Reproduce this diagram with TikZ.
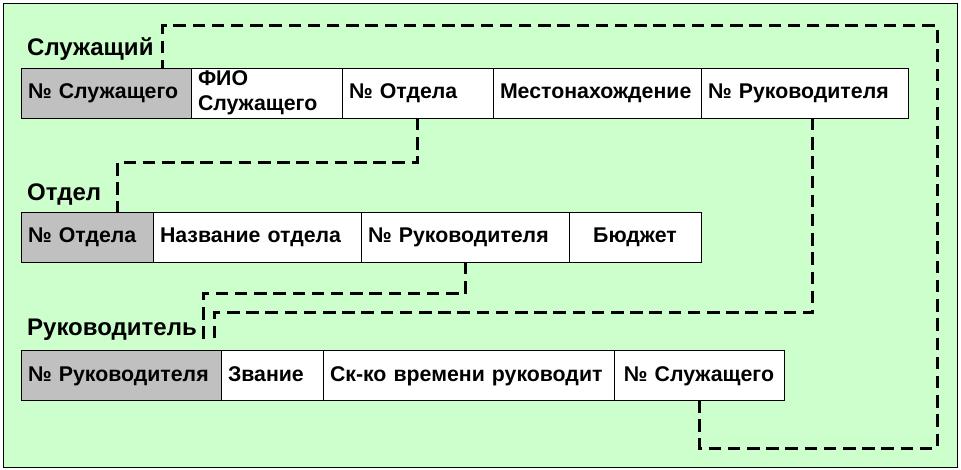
\documentclass[tikz,border=0pt]{standalone}
\usepackage{fontspec}
\setmainfont{Liberation Sans}
\usetikzlibrary{positioning}
\definecolor{paleGreen}{RGB}{204,255,204}
\definecolor{keyGray}{RGB}{192,192,192}
\newcommand{\cellfont}{\fontsize{21.3}{25}\selectfont\bfseries}
\tikzset{
  cell/.style={draw, fill=white, line width=0.8pt, outer sep=0pt,
    inner xsep=7pt, inner ysep=0pt, minimum height=50pt,
    text width=#1, align=left, font=\cellfont},
  field/.style={cell=#1, text height=16pt, text depth=4pt},
  keyfield/.style={field=#1, fill=keyGray},
  tablename/.style={font=\fontsize{24}{28}\selectfont\bfseries, inner sep=0pt},
  link/.style={draw, line width=3pt, dash pattern=on 12.5pt off 6.7pt}
}

\begin{document}
\begin{tikzpicture}[x=1pt, y=-1pt]
    \useasboundingbox (0,0) rectangle (961,470);
    \draw[fill=paleGreen, line width=0.8pt] (3,3) rectangle (957,467);

    \node[tablename, anchor=base west] (tEmp) at (27,56) {Служащий};
    \node[keyfield=156pt, anchor=north west] (a1) at (21,68) {№ Служащего};
    \node[cell=137pt, right=0pt of a1] (a2) {ФИО\\Служащего};
    \node[field=137pt, right=0pt of a2] (a3) {№ Отдела};
    \node[field=194pt, right=0pt of a3] (a4) {Местонахождение};
    \node[field=193pt, right=0pt of a4] (a5) {№ Руководителя};

    \node[tablename, anchor=base west] (tDep) at (27,201) {Отдел};
    \node[keyfield=118pt, anchor=north west] (b1) at (21,212) {№ Отдела};
    \node[field=194pt, right=0pt of b1] (b2) {Название отдела};
    \node[field=194pt, right=0pt of b2] (b3) {№ Руководителя};
    \node[field=118pt, align=center, right=0pt of b3] (b4) {Бюджет};

    \node[tablename, anchor=base west] (tMgr) at (27,335) {Руководитель};
    \node[keyfield=186pt, anchor=north west] (c1) at (21,350) {№ Руководителя};
    \node[field=88pt, right=0pt of c1] (c2) {Звание};
    \node[field=277pt, right=0pt of c2] (c3) {Ск-ко времени руководит};
    \node[field=156pt, align=center, right=0pt of c3] (c4) {№ Служащего};

    \draw[link] (c4.south) -- ++(0,48) -| (937,26) -| ([xshift=56pt]a1.north);
    \draw[link] (a3.south) -- ++(0,45) -| ([xshift=30pt]b1.north);
    \draw[link] (b3.south) -- ++(0,32) -| ([xshift=82pt, yshift=7pt]c1.north);
    \draw[link] ([xshift=8pt]a5.south) -- ++(0,195) -| ([xshift=93pt, yshift=7pt]c1.north);
  \end{tikzpicture}
\end{document}
